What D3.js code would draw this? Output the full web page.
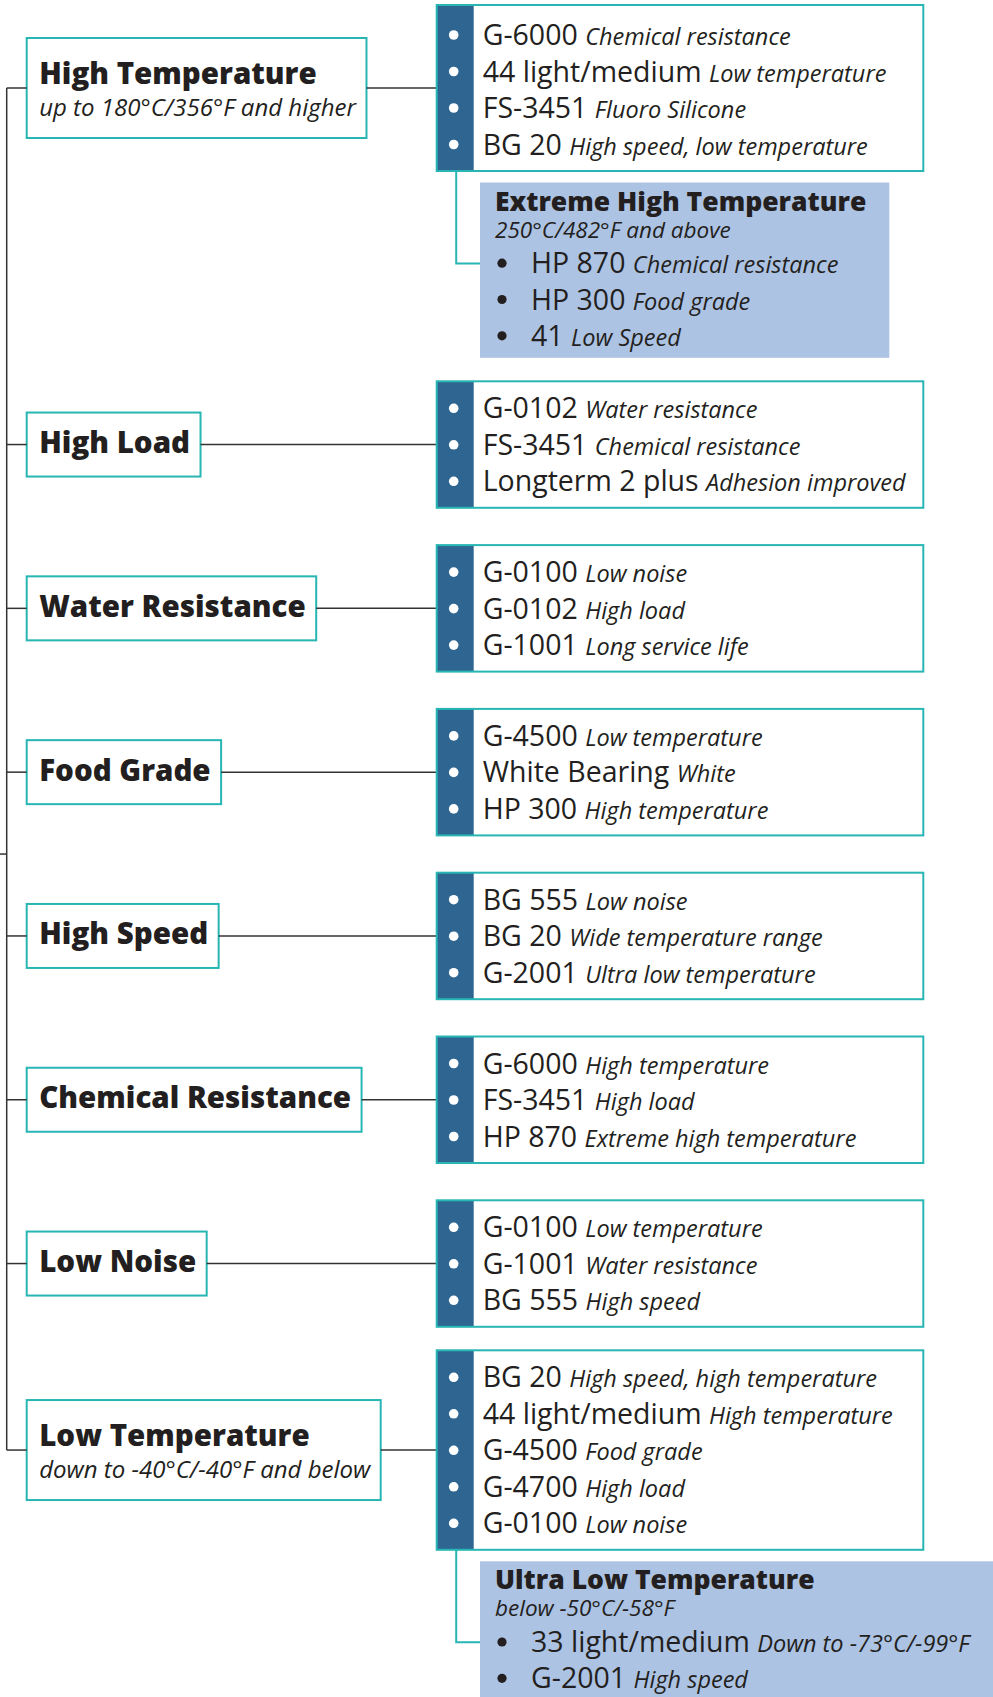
<!DOCTYPE html>
<html>
<head>
<meta charset="utf-8">
<script src="https://cdn.jsdelivr.net/npm/d3@7"></script>
<style>
  body { margin: 0; background: #fff; }
  svg text { font-family: "Open Sans", sans-serif; fill: #231f20; }
</style>
</head>
<body>
<div id="chart"></div>
<script>
// left column: application categories
var categories = ["High Temperature", "High Load", "Water Resistance", "Food Grade",
  "High Speed", "Chemical Resistance", "Low Noise", "Low Temperature"];
var categoryNotes = ["up to 180°C/356°F and higher", "", "", "", "", "", "",
  "down to -40°C/-40°F and below"];

// right column: greases for each category + short remark
var products = [
  ["G-6000", "44 light/medium", "FS-3451", "BG 20"],
  ["G-0102", "FS-3451", "Longterm 2 plus"],
  ["G-0100", "G-0102", "G-1001"],
  ["G-4500", "White Bearing", "HP 300"],
  ["BG 555", "BG 20", "G-2001"],
  ["G-6000", "FS-3451", "HP 870"],
  ["G-0100", "G-1001", "BG 555"],
  ["BG 20", "44 light/medium", "G-4500", "G-4700", "G-0100"]
];
var productNotes = [
  ["Chemical resistance", "Low temperature", "Fluoro Silicone", "High speed, low temperature"],
  ["Water resistance", "Chemical resistance", "Adhesion improved"],
  ["Low noise", "High load", "Long service life"],
  ["Low temperature", "White", "High temperature"],
  ["Low noise", "Wide temperature range", "Ultra low temperature"],
  ["High temperature", "High load", "Extreme high temperature"],
  ["Low temperature", "Water resistance", "High speed"],
  ["High speed, high temperature", "High temperature", "Food grade", "High load", "Low noise"]
];

// sub groups hanging below a category
var subParents = ["High Temperature", "Low Temperature"];
var subGroups = ["Extreme High Temperature", "Ultra Low Temperature"];
var subNotes = ["250°C/482°F and above", "below -50°C/-58°F"];
var subProducts = [["HP 870", "HP 300", "41"], ["33 light/medium", "G-2001"]];
var subProductNotes = [["Chemical resistance", "Food grade", "Low Speed"],
  ["Down to -73°C/-99°F", "High speed"]];

function init() {
    var w = 993, h = 1697;
    var teal = "#27b6b3", navy = "#2e6691", pale = "#adc3e3", dark = "#333";

    var nameSize = "28.5px", noteSize = "23.5px";
    var rowH = 36.5;            // distance between two product lines
    var lineX = 6.7;            // the tree trunk
    var catX = 26.7;            // category boxes
    var boxX = 436.7, boxW = 486.6, stripW = 37;
    var subX = 480;

    var svg = d3.select("#chart").append("svg")
        .attr("width", w)
        .attr("height", h);

    // work out where every group goes, top to bottom
    var y = 5, prevSub = false;
    var groups = categories.map(function (name, i) {
        var n = products[i].length;
        if (i > 0) y += (prevSub || n > 3) ? 23.5 : 37.3;
        var g = {
            name: name,
            note: categoryNotes[i],
            items: products[i],
            notes: productNotes[i],
            top: y,
            height: 36 + (n - 1) * rowH + 17.5
        };
        // first box sits a little lower in its frame
        g.pad = i === 0 ? 3 : 0;
        g.height += g.pad;
        g.mid = g.top + g.height / 2;
        y = g.top + g.height;
        var s = subParents.indexOf(name);
        prevSub = s >= 0;
        if (prevSub) {
            var m = subProducts[s].length;
            g.sub = {
                name: subGroups[s],
                note: subNotes[s],
                items: subProducts[s],
                notes: subProductNotes[s],
                top: y + 11.5,
                height: 28.4 + 26.3 + 36 + (m - 1) * 36.3 + 12
            };
            y = g.sub.top + g.sub.height;
        }
        return g;
    });

    var yRow = d3.scaleLinear().domain([0, 1]).range([37, 37 + rowH]);

    // trunk of the tree
    var first = groups[0].mid, last = groups[groups.length - 1].mid;
    svg.append("line")
        .attr("x1", lineX).attr("x2", lineX)
        .attr("y1", first).attr("y2", last)
        .attr("stroke", dark).attr("stroke-width", 1.5);

    var rootY = (groups[3].mid + groups[4].mid) / 2;
    svg.append("line")
        .attr("x1", 0).attr("x2", lineX)
        .attr("y1", rootY).attr("y2", rootY)
        .attr("stroke", dark).attr("stroke-width", 1.5);

    var gs = svg.selectAll("g.group")
        .data(groups)
        .enter()
        .append("g")
        .attr("class", "group");

    // ---- category boxes
    gs.each(function (d) {
        var g = d3.select(this);
        var two = d.note !== "";
        var bh = two ? 100 : 64;
        var bt = d.mid - bh / 2;

        var rect = g.append("rect")
            .attr("x", catX).attr("y", bt)
            .attr("height", bh)
            .attr("fill", "#fff")
            .attr("stroke", teal).attr("stroke-width", 2);

        var title = g.append("text")
            .attr("x", catX + 12.5)
            .attr("y", two ? d.mid - 3.7 : d.mid + 8.5)
            .style("font-size", "29.5px")
            .style("font-weight", 800)
            .text(d.name);
        var tw = title.node().getComputedTextLength();
        if (two) {
            var note = g.append("text")
                .attr("x", catX + 12.5)
                .attr("y", d.mid + 28.3)
                .style("font-size", "24px")
                .style("font-style", "italic")
                .text(d.note);
            tw = Math.max(tw, note.node().getComputedTextLength());
        }
        var bw = tw + 23;
        rect.attr("width", bw);

        // stub from trunk, connector to product box
        g.append("line")
            .attr("x1", lineX).attr("x2", catX)
            .attr("y1", d.mid).attr("y2", d.mid)
            .attr("stroke", dark).attr("stroke-width", 1.5);
        g.append("line")
            .attr("x1", catX + bw).attr("x2", boxX)
            .attr("y1", d.mid).attr("y2", d.mid)
            .attr("stroke", dark).attr("stroke-width", 1.5);
    });

    // ---- product boxes
    gs.append("rect")
        .attr("x", boxX).attr("y", function (d) { return d.top; })
        .attr("width", boxW).attr("height", function (d) { return d.height; })
        .attr("fill", "#fff");
    gs.append("rect")
        .attr("x", boxX).attr("y", function (d) { return d.top; })
        .attr("width", stripW).attr("height", function (d) { return d.height; })
        .attr("fill", navy);
    gs.append("rect")
        .attr("x", boxX).attr("y", function (d) { return d.top; })
        .attr("width", boxW).attr("height", function (d) { return d.height; })
        .attr("fill", "none")
        .attr("stroke", teal).attr("stroke-width", 2);

    var rows = gs.selectAll("g.row")
        .data(function (d) {
            return d.items.map(function (it, k) {
                return { name: it, note: d.notes[k], y: d.top + d.pad + yRow(k) };
            });
        })
        .enter()
        .append("g")
        .attr("class", "row");

    rows.append("circle")
        .attr("cx", boxX + 17)
        .attr("cy", function (d) { return d.y - 10; })
        .attr("r", 4.8)
        .attr("fill", "#fff");

    var rowText = rows.append("text")
        .attr("x", boxX + 46)
        .attr("y", function (d) { return d.y; });
    rowText.append("tspan")
        .style("font-size", nameSize)
        .text(function (d) { return d.name + " "; });
    rowText.append("tspan")
        .style("font-size", noteSize)
        .style("font-style", "italic")
        .text(function (d) { return d.note; });

    // ---- sub groups (extreme / ultra)
    var subs = gs.filter(function (d) { return d.sub; })
        .append("g")
        .attr("class", "sub");

    subs.each(function (d) {
        var g = d3.select(this), s = d.sub;

        g.append("path")
            .attr("d", "M" + (boxX + 19.5) + "," + (d.top + d.height) +
                "V" + (s.top + 81) + "H" + subX)
            .attr("fill", "none")
            .attr("stroke", teal).attr("stroke-width", 2);

        var rect = g.append("rect")
            .attr("x", subX).attr("y", s.top)
            .attr("height", s.height)
            .attr("fill", pale);

        var texts = [];
        texts.push(g.append("text")
            .attr("x", subX + 15).attr("y", s.top + 28)
            .style("font-size", "26.5px").style("font-weight", 800)
            .text(s.name));
        texts.push(g.append("text")
            .attr("x", subX + 15).attr("y", s.top + 55)
            .style("font-size", "22.5px").style("font-style", "italic")
            .text(s.note));

        s.items.forEach(function (it, k) {
            var by = s.top + 90.7 + k * 36.3;
            g.append("circle")
                .attr("cx", subX + 22).attr("cy", by - 10)
                .attr("r", 4.6).attr("fill", "#231f20");
            var t = g.append("text")
                .attr("x", subX + 51).attr("y", by);
            t.append("tspan").style("font-size", nameSize).text(it + " ");
            t.append("tspan").style("font-size", noteSize).style("font-style", "italic")
                .text(s.notes[k]);
            texts.push(t);
        });

        var maxRight = d3.max(texts, function (t) {
            var b = t.node().getBBox();
            return b.x + b.width;
        });
        rect.attr("width", maxRight - subX + 23);
    });
}

window.onload = init;
</script>
</body>
</html>
